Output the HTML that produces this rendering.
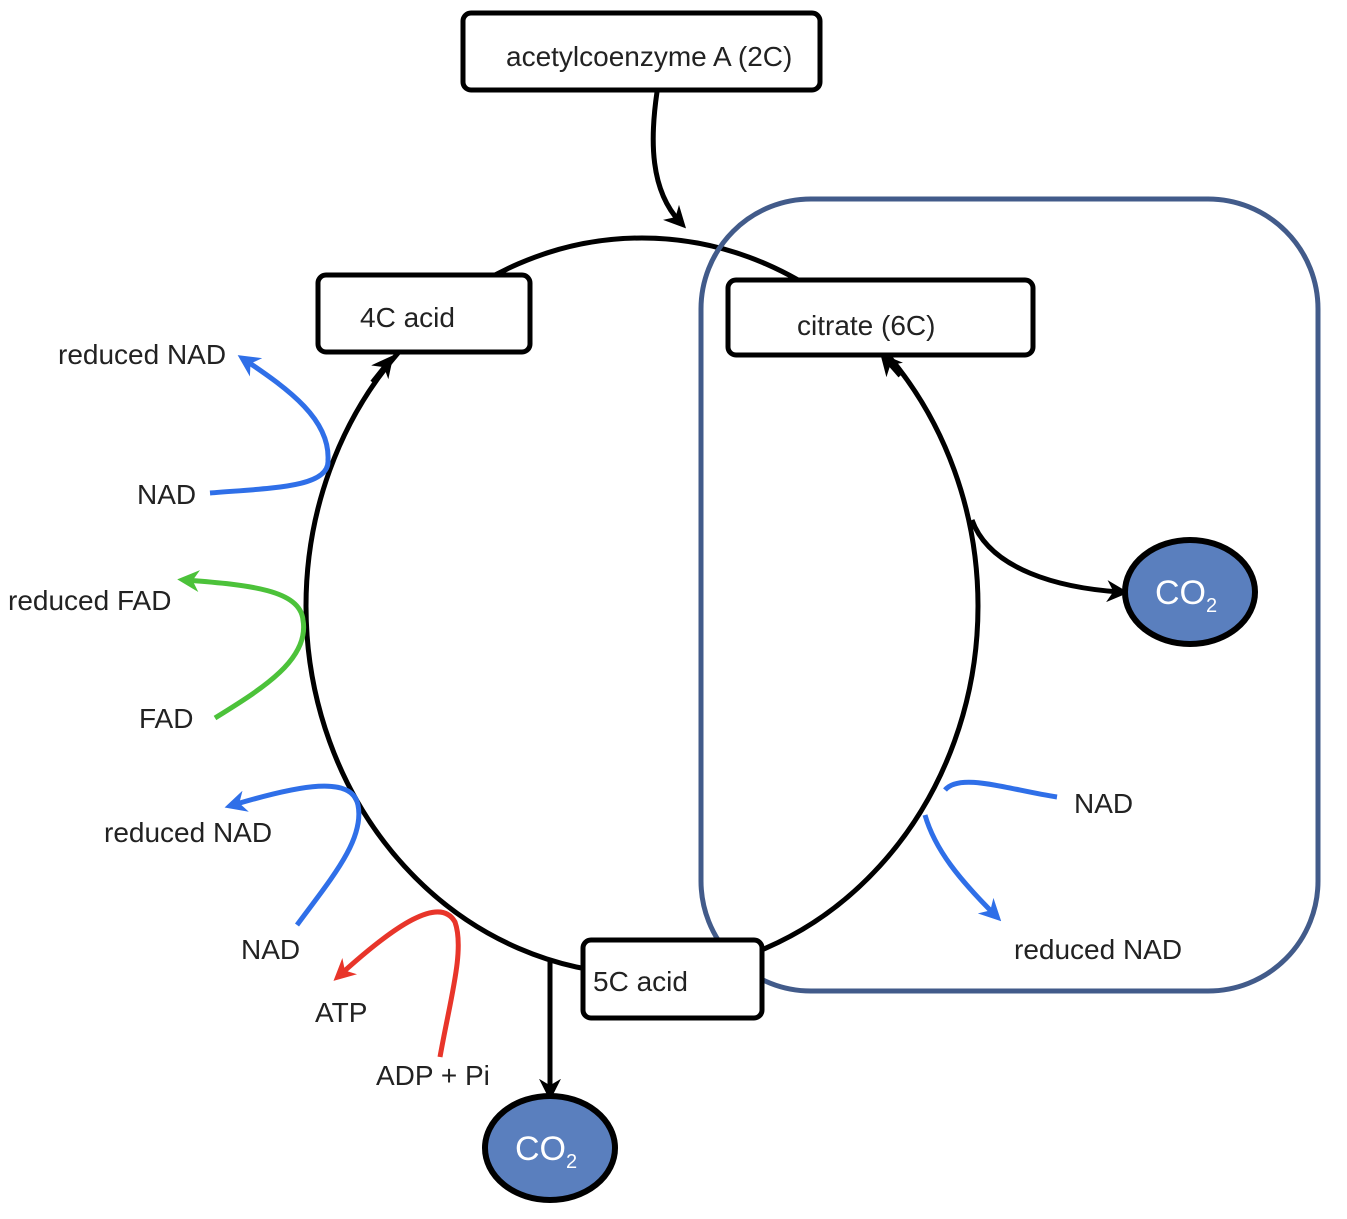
<!DOCTYPE html>
<html><head><meta charset="utf-8"><style>
html,body{margin:0;padding:0;background:#fff;}
svg{display:block}
text{font-family:"Liberation Sans",sans-serif;font-size:28px;fill:#222}
</style></head><body>
<svg width="1347" height="1219" viewBox="0 0 1347 1219">
<defs>
<marker id="ab" viewBox="0 0 10 10" refX="6" refY="5" markerWidth="22" markerHeight="22" orient="auto" markerUnits="userSpaceOnUse"><path d="M0,0 L10,5 L0,10 L3,5 z" fill="#2f6fe8"/></marker>
<marker id="ag" viewBox="0 0 10 10" refX="6" refY="5" markerWidth="22" markerHeight="22" orient="auto" markerUnits="userSpaceOnUse"><path d="M0,0 L10,5 L0,10 L3,5 z" fill="#4cc23a"/></marker>
<marker id="ar" viewBox="0 0 10 10" refX="6" refY="5" markerWidth="22" markerHeight="22" orient="auto" markerUnits="userSpaceOnUse"><path d="M0,0 L10,5 L0,10 L3,5 z" fill="#e8352a"/></marker>
<marker id="aK" viewBox="0 0 10 10" refX="6" refY="5" markerWidth="22" markerHeight="22" orient="auto" markerUnits="userSpaceOnUse"><path d="M0,0 L10,5 L0,10 L3,5 z" fill="#000"/></marker>
</defs>
<ellipse cx="642" cy="606" rx="336" ry="368" fill="none" stroke="#000" stroke-width="5"/>
<rect x="701" y="199" width="617" height="792" rx="110" fill="none" stroke="#425b8a" stroke-width="5"/>
<path d="M657,92 C650,140 650,190 680,222" fill="none" stroke="#000" stroke-width="5" marker-end="url(#aK)"/>
<rect x="463" y="13" width="357" height="77" rx="8" fill="#fff" stroke="#000" stroke-width="5"/>
<text x="506" y="66">acetylcoenzyme A (2C)</text>
<rect x="318" y="275" width="212" height="77" rx="8" fill="#fff" stroke="#000" stroke-width="5"/>
<text x="360" y="327">4C acid</text>
<rect x="728" y="280" width="305" height="75" rx="8" fill="#fff" stroke="#000" stroke-width="5"/>
<text x="797" y="335">citrate (6C)</text>
<rect x="583" y="940" width="179" height="78" rx="8" fill="#fff" stroke="#000" stroke-width="5"/>
<text x="593" y="991">5C acid</text>
<path d="M372,382 L388,362" stroke="#000" stroke-width="4" marker-end="url(#aK)"/>
<path d="M900,376 L886,360" stroke="#000" stroke-width="4" marker-end="url(#aK)"/>
<path d="M972,520 C990,570 1060,588 1120,592" fill="none" stroke="#000" stroke-width="5" marker-end="url(#aK)"/>
<ellipse cx="1190" cy="592" rx="65" ry="52" fill="#5a7fbe" stroke="#000" stroke-width="6"/>
<text x="1155" y="604" style="fill:#fff;font-size:34px">CO<tspan font-size="20" dy="8">2</tspan></text>
<path d="M550,960 L550,1092" stroke="#000" stroke-width="5" marker-end="url(#aK)"/>
<ellipse cx="550" cy="1148" rx="65" ry="52" fill="#5a7fbe" stroke="#000" stroke-width="6"/>
<text x="515" y="1160" style="fill:#fff;font-size:34px">CO<tspan font-size="20" dy="8">2</tspan></text>
<path d="M210,493 C270,488 330,488 328,460 C330,420 290,390 245,360" fill="none" stroke="#2f6fe8" stroke-width="5" marker-end="url(#ab)"/>
<path d="M215,718 C260,690 310,660 303,620 C300,590 250,585 186,580" fill="none" stroke="#4cc23a" stroke-width="5" marker-end="url(#ag)"/>
<path d="M297,925 C330,880 365,840 358,805 C352,775 300,785 233,805" fill="none" stroke="#2f6fe8" stroke-width="5" marker-end="url(#ab)"/>
<path d="M440,1057 C450,1000 465,950 455,922 C440,895 395,925 340,975" fill="none" stroke="#e8352a" stroke-width="5" marker-end="url(#ar)"/>
<path d="M1057,797 C1010,790 960,772 945,790" fill="none" stroke="#2f6fe8" stroke-width="5"/>
<path d="M925,815 C935,850 960,880 995,915" fill="none" stroke="#2f6fe8" stroke-width="5" marker-end="url(#ab)"/>
<text x="58" y="364">reduced NAD</text>
<text x="137" y="504">NAD</text>
<text x="8" y="610">reduced FAD</text>
<text x="139" y="728">FAD</text>
<text x="104" y="842">reduced NAD</text>
<text x="241" y="959">NAD</text>
<text x="315" y="1022">ATP</text>
<text x="376" y="1085">ADP + Pi</text>
<text x="1074" y="813">NAD</text>
<text x="1014" y="959">reduced NAD</text>
</svg>
</body></html>
